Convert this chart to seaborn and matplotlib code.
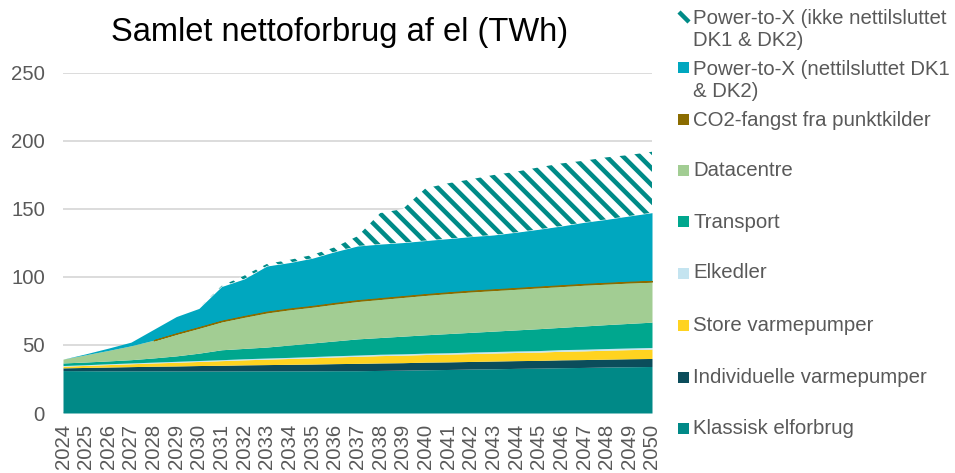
import numpy as np
import seaborn as sns
import matplotlib
matplotlib.use("Agg")
import matplotlib.pyplot as plt
from matplotlib.lines import Line2D
from matplotlib.patches import Rectangle

# ---------------- Data (TWh) ----------------
years = list(range(2024, 2051))

klassisk = [31.2, 31.1, 31.0, 31.0, 31.0, 30.9, 30.9, 30.9, 31.0, 31.0, 31.0, 31.0, 31.1, 31.1,
            31.3, 31.5, 31.8, 32.0, 32.3, 32.5, 32.8, 33.0, 33.3, 33.5, 33.8, 34.0, 34.2]
individuelle = [2.0, 2.4, 2.8, 3.1, 3.4, 3.7, 4.0, 4.2, 4.4, 4.6, 4.8, 5.0, 5.2, 5.4,
                5.5, 5.5, 5.6, 5.6, 5.6, 5.7, 5.7, 5.7, 5.8, 5.8, 5.8, 5.9, 5.9]
store_vp = [1.2, 1.5, 1.8, 2.1, 2.4, 2.7, 3.0, 3.4, 3.7, 4.0, 4.3, 4.6, 4.9, 5.2,
            5.4, 5.5, 5.6, 5.7, 5.8, 5.9, 6.0, 6.1, 6.3, 6.4, 6.6, 6.7, 6.9]
elkedler = [0.5, 0.5, 0.6, 0.6, 0.6, 0.7, 0.7, 0.7, 0.8, 0.8, 0.8, 0.9, 0.9, 0.9,
            1.0, 1.0, 1.0, 1.0, 1.1, 1.1, 1.1, 1.1, 1.2, 1.2, 1.2, 1.2, 1.2]
transport = [1.9, 2.0, 2.1, 2.4, 3.1, 4.0, 5.4, 7.3, 7.6, 8.1, 9.1, 10.0, 10.9, 11.9,
             12.3, 13.0, 13.5, 14.1, 14.5, 15.0, 15.5, 16.1, 16.4, 17.1, 17.6, 18.1, 18.6]
datacentre = [2.8, 5.3, 7.7, 10.2, 13.0, 16.3, 18.8, 21.0, 23.4, 25.6, 26.4, 26.8, 27.5, 28.0,
              28.5, 29.0, 29.5, 29.9, 30.2, 30.3, 30.4, 30.5, 30.5, 30.5, 30.3, 30.2, 29.9]
co2_fangst = [0, 0, 0, 0, 0, 0.2, 0.3, 0.3, 0.4, 0.4, 0.4, 0.4, 0.4, 0.4,
              0.4, 0.4, 0.4, 0.4, 0.4, 0.4, 0.4, 0.4, 0.4, 0.4, 0.4, 0.4, 0.4]
ptx_net = [0, 0.7, 1.7, 2.7, 8.0, 12.4, 13.8, 25.2, 27.3, 33.6, 33.8, 35.1, 37.7, 39.9,
           39.8, 39.4, 39.4, 39.5, 39.8, 40.0, 41.0, 42.2, 43.6, 45.3, 46.7, 48.4, 50.2]
ptx_ikke = [0, 0, 0, 0, 0, 0, 0, 0.5, 2.4, 1.5, 2.0, 2.4, 3.3, 7.2,
            22.8, 24.7, 38.4, 40.7, 42.1, 44.1, 44.5, 45.5, 46.0, 45.3, 45.6, 44.8, 44.8]

series_names = ["Klassisk elforbrug", "Individuelle varmepumper", "Store varmepumper",
                "Elkedler", "Transport", "Datacentre", "CO2-fangst fra punktkilder",
                "Power-to-X (nettilsluttet DK1\n& DK2)",
                "Power-to-X (ikke nettilsluttet\nDK1 & DK2)"]
series = [klassisk, individuelle, store_vp, elkedler, transport, datacentre,
          co2_fangst, ptx_net, ptx_ikke]
colors = ["#008987", "#0B4D5B", "#FFD320", "#C4E4F0", "#00A78E", "#A2CD93",
          "#8B6C00", "#00A7BF", "#008B87"]
y_ticks = [0, 50, 100, 150, 200, 250]

# ---------------- Style ----------------
sns.set_theme(style="white")
plt.rcParams['font.family'] = ['Liberation Sans', 'DejaVu Sans']
plt.rcParams['hatch.linewidth'] = 3.3
plt.rcParams['hatch.color'] = colors[-1]
grey = "#595959"

fig = plt.figure(figsize=(9.55, 4.73), dpi=100)
ax = fig.add_axes([63 / 955, 1 - 413 / 473, (652 - 63) / 955, (413 - 73) / 473])

# ---------------- Stacked areas ----------------
x = np.array(years)
bottom = np.zeros(len(years))
for name, vals, col in zip(series_names, series, colors):
    vals = np.array(vals, dtype=float)
    top = bottom + vals
    if name.startswith("Power-to-X (ikke"):
        ax.fill_between(x, bottom, top, facecolor="white", edgecolor=col,
                        hatch="\\\\", linewidth=0, zorder=2)
    elif name.startswith("CO2"):
        ax.fill_between(x, bottom, top, where=vals > 0, interpolate=True,
                        facecolor=col, edgecolor=col, linewidth=0.8, zorder=3)
    else:
        ax.fill_between(x, bottom, top, facecolor=col, linewidth=0, zorder=2)
    bottom = top

ax.set_xlim(years[0], years[-1])
ax.set_ylim(0, 250)
ax.set_xticks(years)
ax.set_xticklabels([str(y) for y in years], rotation=90, fontsize=14.7, color=grey)
ax.set_yticks(y_ticks)
ax.set_yticklabels([str(v) for v in y_ticks], fontsize=14.7, color=grey)
ax.tick_params(axis="both", length=0)
ax.tick_params(axis="y", pad=13)
ax.tick_params(axis="x", pad=8)
ax.yaxis.grid(True, color="#D9D9D9", linewidth=1.3, zorder=0)
ax.xaxis.grid(False)
ax.set_axisbelow(True)
for s in ax.spines.values():
    s.set_visible(False)

fig.text(340 / 955, 1 - 33 / 473, "Samlet nettoforbrug af el (TWh)",
         ha="center", va="center", fontsize=23.5, color="black")

# ---------------- Legend (top to bottom, as in the chart) ----------------
leg_y = [29.2, 80.5, 120, 171, 222, 273, 325, 377, 428]
for i, yy in enumerate(leg_y):
    idx = len(series_names) - 1 - i
    name = series_names[idx]
    first_line = yy - 12.5 if "\n" in name else yy
    if idx == len(series_names) - 1:
        fig.add_artist(Line2D([679 / 955, 689 / 955],
                              [1 - 12 / 473, 1 - 22 / 473],
                              color=colors[idx], linewidth=3.2,
                              solid_capstyle="butt"))
    else:
        fig.add_artist(Rectangle((678 / 955, 1 - (first_line + 5.5) / 473),
                                 11 / 955, 11 / 473, facecolor=colors[idx],
                                 edgecolor="none", transform=fig.transFigure))
    fig.text(693 / 955, 1 - yy / 473, name, ha="left", va="center",
             fontsize=14.7, color=grey, linespacing=1.22)

fig.savefig("out.png", dpi=100)
